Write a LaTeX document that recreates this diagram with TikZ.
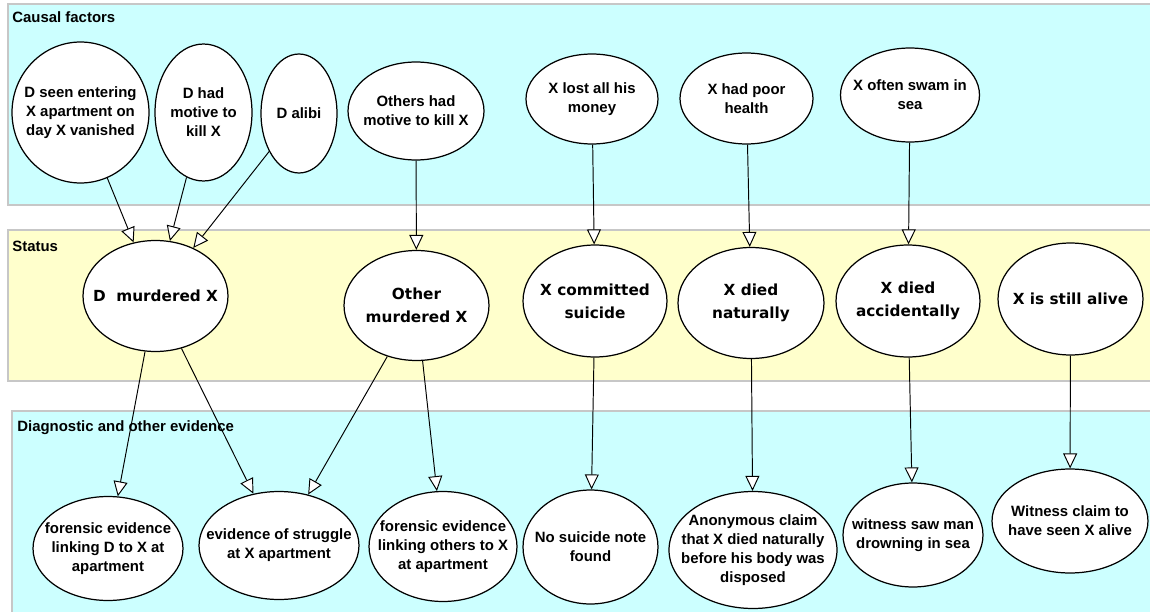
\documentclass[tikz,border=0pt]{standalone}
\usepackage{fontspec}
\setmainfont{Liberation Sans}
\newfontfamily\statusfont{DejaVu Sans}
\usetikzlibrary{shapes.geometric}
\usetikzlibrary{arrows.meta}
\tikzset{>={Triangle[width=2.8mm,length=3mm,fill=white]}}

\definecolor{causalcyan}{RGB}{204,255,255}
\definecolor{statusyellow}{RGB}{255,255,204}

\tikzset{
  band/.style={draw=black!22, line width=0.6pt},
  bandlabel/.style={inner sep=0pt, font=\fontsize{8.5}{10.8}\selectfont\bfseries},
  factor/.style={ellipse, draw, fill=white, line width=0.7pt, inner sep=0pt},
  ftext/.style={align=center, inner sep=0pt, font=\fontsize{8.5}{10.8}\selectfont\bfseries},
  stext/.style={align=center, inner sep=0pt, font=\statusfont\fontsize{8.7}{13}\selectfont\bfseries},
  link/.style={->, line width=0.55pt},
}

\begin{document}
\begin{tikzpicture}[x=0.02cm, y=-0.02cm]

  \useasboundingbox (0,0) rectangle (1150,612);

  % bands
  \filldraw[band, fill=causalcyan]   (8,4)    rectangle (1165,205);
  \filldraw[band, fill=statusyellow] (8,230)  rectangle (1165,381);
  \filldraw[band, fill=causalcyan]   (12,411) rectangle (1165,620);

  \node[bandlabel, anchor=base west] (causal) at (12,22)  {Causal factors};
  \node[bandlabel, anchor=base west] (status) at (12,251) {Status};
  \node[bandlabel, anchor=base west] (diag)   at (17,431) {Diagnostic and other evidence};

  % causal factors
  \node[factor, minimum width=2.74cm, minimum height=2.82cm, label={[ftext]center:D seen entering\\X apartment on\\day X vanished}] (dseen) at (80.5,112.5) {};
  \node[factor, minimum width=1.94cm, minimum height=2.74cm, label={[ftext]center:D had\\motive to\\kill X}] (dmotive) at (203.5,112.5) {};
  \node[factor, minimum width=1.52cm, minimum height=2.38cm, label={[ftext]center:D alibi}] (dalibi) at (299,113.5) {};
  \node[factor, minimum width=2.72cm, minimum height=1.96cm, label={[ftext]center:Others had\\motive to kill X}] (omotive) at (416,111) {};
  \node[factor, minimum width=2.64cm, minimum height=1.80cm, label={[ftext]center:X lost all his\\money}] (xmoney) at (592,99) {};
  \node[factor, minimum width=2.66cm, minimum height=1.82cm, label={[ftext]center:X had poor\\health}] (xhealth) at (746.5,98.5) {};
  \node[factor, minimum width=2.78cm, minimum height=1.88cm, label={[ftext]center:X often swam in\\sea}] (xswam) at (910,95) {};

  % status
  \node[factor, minimum width=2.90cm, minimum height=2.22cm, label={[stext]center:D\ \ murdered X}] (dmurder) at (155.5,296) {};
  \node[factor, minimum width=2.90cm, minimum height=2.20cm, label={[stext]center:Other\\murdered X}] (omurder) at (416.5,305.5) {};
  \node[factor, minimum width=2.88cm, minimum height=2.24cm, label={[stext]center:X committed\\suicide}] (suicide) at (595,301) {};
  \node[factor, minimum width=2.92cm, minimum height=2.22cm, label={[stext]center:X died\\naturally}] (natural) at (751,303) {};
  \node[factor, minimum width=2.88cm, minimum height=2.24cm, label={[stext]center:X died\\accidentally}] (accident) at (908,301) {};
  \node[factor, minimum width=2.90cm, minimum height=2.24cm, label={[stext]center:X is still alive}] (alive) at (1070.5,299) {};

  % evidence
  \node[factor, minimum width=3.00cm, minimum height=2.08cm, label={[ftext]center:forensic evidence\\linking D to X at\\apartment}] (forensicd) at (108,548.5) {};
  \node[factor, minimum width=3.20cm, minimum height=2.16cm, label={[ftext]center:evidence of struggle\\at X apartment}] (struggle) at (279,545.5) {};
  \node[factor, minimum width=2.96cm, minimum height=2.20cm, label={[ftext]center:forensic evidence\\linking others to X\\at apartment}] (forensico) at (443,546.5) {};
  \node[factor, minimum width=2.70cm, minimum height=2.28cm, label={[ftext]center:No suicide note\\found}] (nonote) at (590.5,547) {};
  \node[factor, minimum width=3.36cm, minimum height=2.34cm, label={[ftext]center:Anonymous claim\\that X died naturally\\before his body was\\disposed}] (anon) at (753,550) {};
  \node[factor, minimum width=2.80cm, minimum height=2.08cm, label={[ftext]center:witness saw man\\drowning in sea}] (drown) at (913,535) {};
  \node[factor, minimum width=3.12cm, minimum height=2.08cm, label={[ftext]center:Witness claim to\\have seen X alive}] (wclaim) at (1070,521) {};

  % links
  \draw[link] (dseen) -- (dmurder);
  \draw[link] (dmotive) -- (dmurder);
  \draw[link] (dalibi) -- (dmurder);
  \draw[link] (omotive) -- (omurder);
  \draw[link] (xmoney) -- (suicide);
  \draw[link] (xhealth) -- (natural);
  \draw[link] (xswam) -- (accident);

  \draw[link] (dmurder) -- (forensicd);
  \draw[link] (dmurder) -- (struggle);
  \draw[link] (omurder) -- (struggle);
  \draw[link] (omurder) -- (forensico);
  \draw[link] (suicide) -- (nonote);
  \draw[link] (natural) -- (anon);
  \draw[link] (accident) -- (drown);
  \draw[link] (alive) -- (wclaim);

\end{tikzpicture}
\end{document}
